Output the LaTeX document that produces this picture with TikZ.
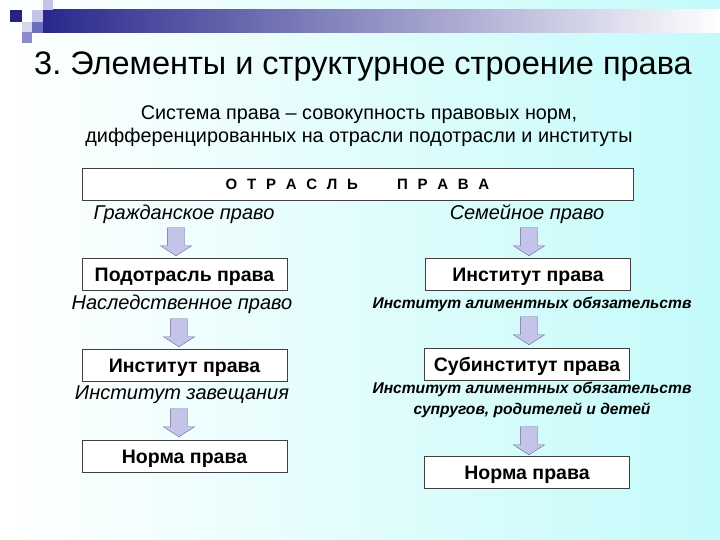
\documentclass[tikz,border=0pt]{standalone}
\usepackage{fontspec}
\setmainfont{Liberation Sans}
\usetikzlibrary{shapes.arrows,positioning}

\definecolor{bgcyan}{RGB}{196,250,250}
\definecolor{barblue}{RGB}{40,40,140}
\definecolor{lav}{RGB}{196,196,232}
\definecolor{lavdark}{RGB}{110,110,190}

\newcommand{\spaced}[1]{#1\hspace{0.65em}}

\begin{document}
\frenchspacing
\begin{tikzpicture}[x=1pt, y=-1pt]
  % ------- styles -------
  \tikzstyle{box}=[draw=black!75, fill=white, minimum width=205pt, minimum height=32pt, inner sep=0pt, text height=14pt, text depth=0pt, font=\fontsize{19.5}{22}\selectfont\bfseries]
  \tikzstyle{branch}=[inner sep=0pt, font=\fontsize{20}{24}\selectfont\itshape]
  \tikzstyle{note}=[inner sep=0pt, align=center, font=\fontsize{15.6}{20.5}\selectfont\bfseries\itshape]
  \tikzstyle{downarrow}=[single arrow, rotate=-90, draw=gray!80!blue, fill=lav, inner xsep=0pt, inner ysep=8.5pt, minimum height=28pt, minimum width=31pt, single arrow head extend=7pt, single arrow tip angle=115]

  % ------- background -------
  \useasboundingbox (0,0) rectangle (720,540);
  \fill[left color=white, right color=bgcyan] (0,0) rectangle (720,540);
  \fill[left color=barblue, right color=white] (43,10) rectangle (720,33);
  \fill[barblue!90!black] (10,10) rectangle (22,22);
  \fill[lav] (32,10) rectangle (43,22);
  \fill[lav] (43,0) rectangle (53,10);
  \fill[lav!70] (22,22) rectangle (32,32);
  \fill[lavdark] (32,22) rectangle (43,33);
  \fill[lavdark!80] (22,32) rectangle (32,43);

  % ------- title -------
  \node[anchor=base west, inner sep=0pt, font=\fontsize{32.5}{38}\selectfont] (title) at (34,75) {3. Элементы и структурное строение права};
  \node[align=center, inner sep=0pt, font=\fontsize{19.8}{23}\selectfont] (defn) at (359,126) {Система права -- совокупность правовых норм,\\дифференцированных на отрасли подотрасли и институты};

  % ------- nodes -------
  \node[box, minimum width=551pt, text height=10.8pt, font=\fontsize{15}{18}\selectfont\bfseries] (branchbox) at (357.5,184) {\spaced О\spaced Т\spaced Р\spaced А\spaced С\spaced ЛЬ\hspace{2.6em}\spaced П\spaced Р\spaced А\spaced ВА};

  \node[branch] (civil) at (184,214) {Гражданское право};
  \node[branch] (family) at (527,214) {Семейное право};

  \node[downarrow] (a1) at (176,239) {};
  \node[downarrow] (a2) at (529,239) {};

  \node[box] (sub) at (184.5,274) {Подотрасль права};
  \node[box] (inst2) at (528,274) {Институт права};

  \node[branch] (heir) at (182,304) {Наследственное право};
  \node[note] (alim) at (532,304) {Институт алиментных обязательств};

  \node[downarrow] (a3) at (179,330) {};
  \node[downarrow] (a4) at (529,328) {};

  \node[box] (inst1) at (184.5,365) {Институт права};
  \node[box] (subinst) at (527,364) {Субинститут права};

  \node[branch] (will) at (182,395) {Институт завещания};
  \node[note] (alimfam) at (532,400) {Институт алиментных обязательств\\супругов, родителей и детей};

  \node[downarrow] (a5) at (179,420) {};
  \node[downarrow] (a6) at (529,438) {};

  \node[box] (norm1) at (184.5,456.5) {Норма права};
  \node[box] (norm2) at (527,472.5) {Норма права};

\end{tikzpicture}
\end{document}
